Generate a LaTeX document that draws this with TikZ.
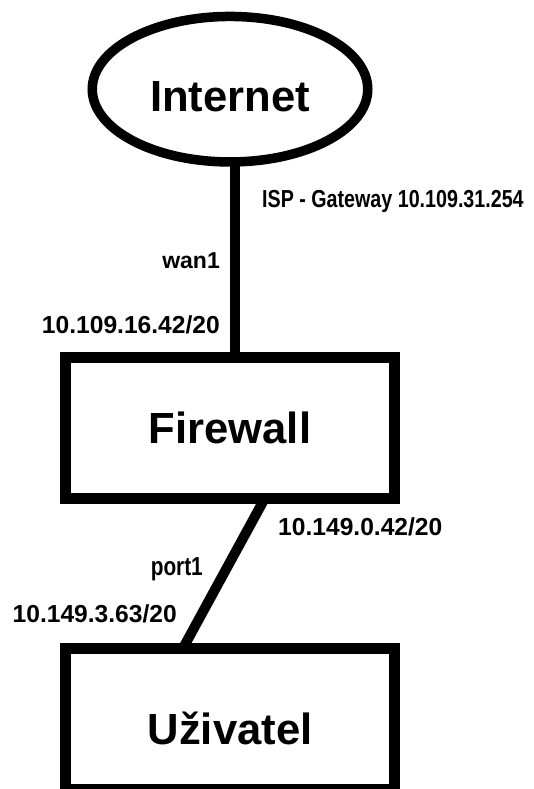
\documentclass[tikz,border=0pt]{standalone}
\usepackage{fontspec}
\setmainfont{Liberation Sans}
\newfontfamily\narrowfont[FakeStretch=0.8]{Liberation Sans}
\usetikzlibrary{shapes.geometric,positioning}

\tikzset{
    net/.style={draw,ellipse,line width=9.5pt,minimum width=275.5pt,
        minimum height=145.5pt,inner sep=0pt,outer sep=0pt,
        font=\fontsize{43.6}{48}\selectfont\bfseries},
    device/.style={draw,rectangle,line width=11pt,minimum width=329pt,
        minimum height=141pt,inner sep=0pt,outer sep=0pt,
        font=\fontsize{43.6}{48}\selectfont\bfseries},
    link/.style={line width=10pt},
    addr/.style={inner sep=0pt,font=\fontsize{24.6}{28}\selectfont\bfseries},
    tightaddr/.style={inner sep=0pt,font=\narrowfont\fontsize{24.6}{28}\selectfont\bfseries}
}

\begin{document}
\begin{tikzpicture}[x=1pt,y=-1pt]
    \useasboundingbox (0,0) rectangle (533,789);
    \node[net,text height=45pt] (inet) at (230,89.2) {Internet};
    \node[device] (fw) at (230,428) {Firewall};
    \node[device,text height=53pt] (usr) at (230,718.5) {Uživatel};
    \draw[link] ([xshift=4.5pt]inet.south) -- ([xshift=4.5pt]fw.north);
    \draw[link] ([xshift=34.7pt]fw.south) -- ([xshift=-46.9pt]usr.north);
    \node[tightaddr,anchor=base west] (gw) at (262,207) {ISP - Gateway 10.109.31.254};
    \node[addr,font=\fontsize{23}{26}\selectfont\bfseries,anchor=base east] (wan) at (220,268) {wan1};
    \node[addr,anchor=base east] (wanip) at (220,333) {10.109.16.42/20};
    \node[addr,anchor=base west] (lanip) at (278,535) {10.149.0.42/20};
    \node[tightaddr,font=\narrowfont\fontsize{26}{29}\selectfont\bfseries,anchor=base east] (port) at (203,575) {port1};
    \node[addr,anchor=base east] (usrip) at (177,622) {10.149.3.63/20};
\end{tikzpicture}
\end{document}
